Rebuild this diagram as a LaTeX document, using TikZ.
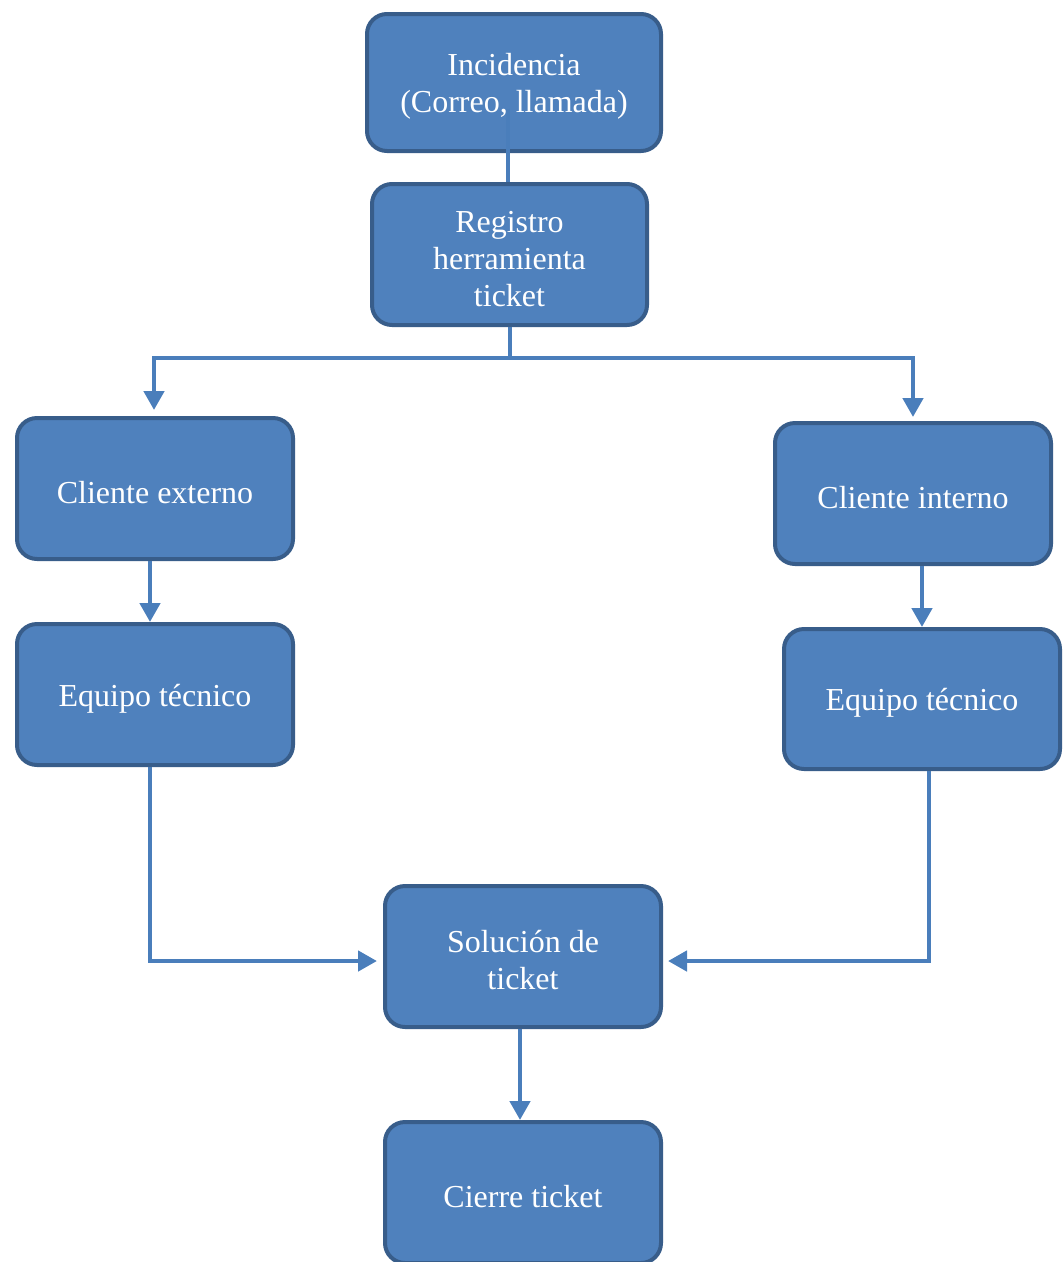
\documentclass[tikz,border=0pt]{standalone}
\usepackage{fontspec}
\setmainfont{Liberation Serif}
\usetikzlibrary{arrows.meta}
\definecolor{boxfill}{HTML}{4F81BD}
\definecolor{boxline}{HTML}{385D8A}
\definecolor{connc}{HTML}{4A7EBB}
\newcommand\dnstrut{\rule{0pt}{30pt}}
\tikzset{
  box/.style={rectangle, rounded corners=20pt, draw=boxline, line width=4pt, fill=boxfill,
    text=white, align=center, font=\fontsize{32}{37}\selectfont, inner sep=2pt},
  conn/.style={draw=connc, line width=4.5pt},
  arr/.style={conn, -{Triangle[width=20pt,length=19pt]}}
}
\begin{document}
\begin{tikzpicture}[x=1pt,y=-1pt]
\clip (0,0) rectangle (1064,1262);
\fill[white] (0,0) rectangle (1064,1262);
\node[box, minimum width=294pt, minimum height=137pt] (inc) at (514,82.5) {\dnstrut Incidencia\\(Correo, llamada)};
\node[box, minimum width=275pt, minimum height=141pt] (reg) at (509.5,254.5) {\dnstrut Registro\\herramienta\\ticket};
\node[box, minimum width=276pt, minimum height=141pt] (cext) at (155,488.5) {\dnstrut Cliente externo};
\node[box, minimum width=276pt, minimum height=141pt] (cint) at (913,493.5) {\dnstrut Cliente interno};
\node[box, minimum width=276pt, minimum height=141pt] (eqL) at (155,694.5) {\dnstrut Equipo técnico};
\node[box, minimum width=276pt, minimum height=140pt] (eqR) at (922,699) {\dnstrut Equipo técnico};
\node[box, minimum width=276pt, minimum height=141pt] (sol) at (523,956.5) {\dnstrut Solución de\\ticket};
\node[box, minimum width=276pt, minimum height=141pt] (cie) at (523,1192.5) {\dnstrut Cierre ticket};
% connectors
\draw[conn] ([xshift=-6pt,yshift=-26pt]inc.center) -- ([xshift=-1.5pt]reg.north);
\draw[arr, shorten >=6pt] ([xshift=0.5pt]reg.south) -- ++(0,31) -| ([xshift=-1pt]cext.north);
\draw[arr, shorten >=4pt] ([xshift=0.5pt]reg.south) -- ++(0,31) -| (cint.north);
\draw[arr] ([xshift=-5pt]cext.south) -- ([xshift=-5pt]eqL.north);
\draw[arr] (eqR.north |- cint.south) -- (eqR.north);
\draw[arr, shorten >=6pt] ([xshift=-5pt]eqL.south) |- ([yshift=-4.5pt]sol.west);
\draw[arr, shorten >=5pt] ([xshift=7pt]eqR.south) |- ([yshift=-4.5pt]sol.east);
\draw[arr] ([xshift=-3pt]sol.south) -- ([xshift=-3pt]cie.north);
\end{tikzpicture}
\end{document}
